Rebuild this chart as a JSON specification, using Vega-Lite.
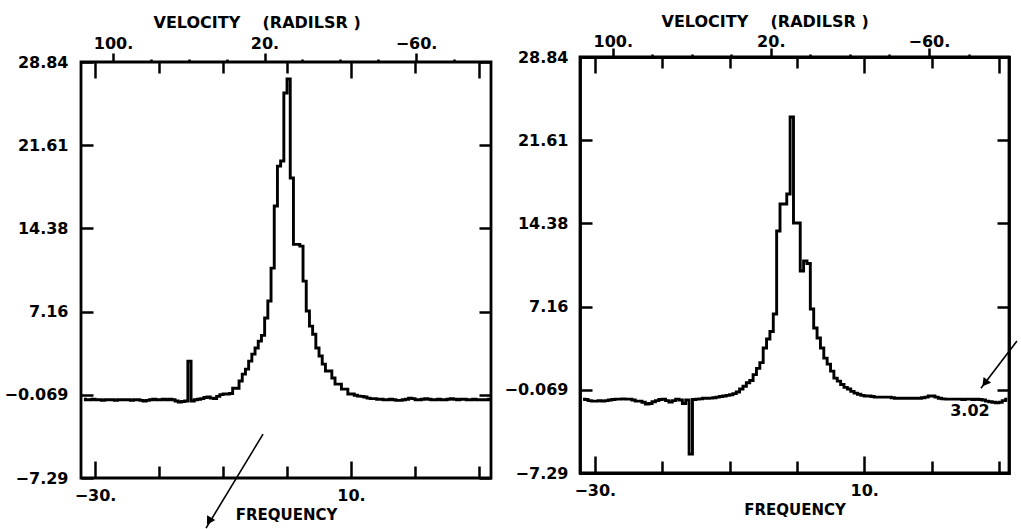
{
  "$schema": "https://vega.github.io/schema/vega-lite/v6.json",
  "background": "white",
  "padding": {"left": 2, "top": 12, "right": 0, "bottom": 0},
  "spacing": 5,
  "config": {
    "view": {"stroke": "black", "strokeWidth": 2.8},
    "axis": {"grid": false, "domain": false, "domainColor": "black", "domainWidth": 2.8, "domainCap": "square", "tickColor": "black", "tickWidth": 2.5, "labelFont": "DejaVu Sans", "labelFontWeight": "bold", "labelFontSize": 16, "labelColor": "black", "labelFlush": false, "labelOverlap": false, "titleFont": "DejaVu Sans", "titleFontWeight": "bold", "titleFontSize": 15, "titleColor": "black"},
    "text": {"font": "DejaVu Sans"}
  },
  "datasets": {
    "left": [
      {"f": -31.75, "v": -0.45}, {"f": -31.25, "v": -0.5}, {"f": -30.75, "v": -0.5}, {"f": -30.25, "v": -0.45},
      {"f": -29.75, "v": -0.5}, {"f": -29.25, "v": -0.5}, {"f": -28.75, "v": -0.55}, {"f": -28.25, "v": -0.5},
      {"f": -27.75, "v": -0.5}, {"f": -27.25, "v": -0.5}, {"f": -26.75, "v": -0.55}, {"f": -26.25, "v": -0.5},
      {"f": -25.75, "v": -0.5}, {"f": -25.25, "v": -0.5}, {"f": -24.75, "v": -0.5}, {"f": -24.25, "v": -0.55},
      {"f": -23.75, "v": -0.5}, {"f": -23.25, "v": -0.5}, {"f": -22.75, "v": -0.55}, {"f": -22.25, "v": -0.6},
      {"f": -21.75, "v": -0.55}, {"f": -21.25, "v": -0.5}, {"f": -20.75, "v": -0.45}, {"f": -20.25, "v": -0.5},
      {"f": -19.75, "v": -0.5}, {"f": -19.25, "v": -0.45}, {"f": -18.75, "v": -0.5}, {"f": -18.25, "v": -0.45},
      {"f": -17.75, "v": -0.5}, {"f": -17.25, "v": -0.6}, {"f": -16.75, "v": -0.7}, {"f": -16.25, "v": -0.65},
      {"f": -15.75, "v": -0.6}, {"f": -15.25, "v": 2.86}, {"f": -14.75, "v": -0.6}, {"f": -14.25, "v": -0.5},
      {"f": -13.75, "v": -0.45}, {"f": -13.25, "v": -0.4}, {"f": -12.75, "v": -0.3}, {"f": -12.25, "v": -0.25},
      {"f": -11.75, "v": -0.35}, {"f": -11.25, "v": -0.4}, {"f": -10.75, "v": -0.2}, {"f": -10.25, "v": -0.05},
      {"f": -9.75, "v": 0.0}, {"f": -9.25, "v": 0.0}, {"f": -8.75, "v": 0.05}, {"f": -8.25, "v": 0.51},
      {"f": -7.75, "v": 0.51}, {"f": -7.25, "v": 1.13}, {"f": -6.75, "v": 1.73}, {"f": -6.25, "v": 2.17},
      {"f": -5.75, "v": 2.86}, {"f": -5.25, "v": 3.47}, {"f": -4.75, "v": 4.0}, {"f": -4.25, "v": 4.6},
      {"f": -3.75, "v": 5.1}, {"f": -3.25, "v": 6.6}, {"f": -2.75, "v": 8.08}, {"f": -2.25, "v": 10.94},
      {"f": -1.75, "v": 16.33}, {"f": -1.25, "v": 19.8}, {"f": -0.75, "v": 20.24}, {"f": -0.25, "v": 26.15},
      {"f": 0.25, "v": 27.36}, {"f": 0.75, "v": 18.76}, {"f": 1.25, "v": 13.0}, {"f": 1.75, "v": 13.0},
      {"f": 2.25, "v": 12.85}, {"f": 2.75, "v": 9.81}, {"f": 3.25, "v": 7.21}, {"f": 3.75, "v": 5.9},
      {"f": 4.25, "v": 5.2}, {"f": 4.75, "v": 4.0}, {"f": 5.25, "v": 3.3}, {"f": 5.75, "v": 2.6},
      {"f": 6.25, "v": 2.0}, {"f": 6.75, "v": 2.0}, {"f": 7.25, "v": 1.39}, {"f": 7.75, "v": 0.86},
      {"f": 8.25, "v": 0.86}, {"f": 8.75, "v": 0.43}, {"f": 9.25, "v": 0.43}, {"f": 9.75, "v": 0.0},
      {"f": 10.25, "v": 0.0}, {"f": 10.75, "v": -0.1}, {"f": 11.25, "v": -0.18}, {"f": 11.75, "v": -0.2},
      {"f": 12.25, "v": -0.25}, {"f": 12.75, "v": -0.35}, {"f": 13.25, "v": -0.4}, {"f": 13.75, "v": -0.4},
      {"f": 14.25, "v": -0.45}, {"f": 14.75, "v": -0.45}, {"f": 15.25, "v": -0.5}, {"f": 15.75, "v": -0.5},
      {"f": 16.25, "v": -0.45}, {"f": 16.75, "v": -0.5}, {"f": 17.25, "v": -0.55}, {"f": 17.75, "v": -0.55},
      {"f": 18.25, "v": -0.5}, {"f": 18.75, "v": -0.45}, {"f": 19.25, "v": -0.35}, {"f": 19.75, "v": -0.4},
      {"f": 20.25, "v": -0.5}, {"f": 20.75, "v": -0.5}, {"f": 21.25, "v": -0.45}, {"f": 21.75, "v": -0.4},
      {"f": 22.25, "v": -0.45}, {"f": 22.75, "v": -0.5}, {"f": 23.25, "v": -0.5}, {"f": 23.75, "v": -0.45},
      {"f": 24.25, "v": -0.5}, {"f": 24.75, "v": -0.5}, {"f": 25.25, "v": -0.45}, {"f": 25.75, "v": -0.4},
      {"f": 26.25, "v": -0.45}, {"f": 26.75, "v": -0.5}, {"f": 27.25, "v": -0.45}, {"f": 27.75, "v": -0.45},
      {"f": 28.25, "v": -0.5}, {"f": 28.75, "v": -0.5}, {"f": 29.25, "v": -0.45}, {"f": 29.75, "v": -0.5},
      {"f": 30.25, "v": -0.5}, {"f": 30.75, "v": -0.5}, {"f": 31.25, "v": -0.5}, {"f": 31.75, "v": -0.45}
    ],
    "right": [
      {"f": -31.75, "v": -0.87}, {"f": -31.25, "v": -0.9}, {"f": -30.75, "v": -1.0}, {"f": -30.25, "v": -1.05},
      {"f": -29.75, "v": -1.05}, {"f": -29.25, "v": -1.0}, {"f": -28.75, "v": -1.05}, {"f": -28.25, "v": -1.0},
      {"f": -27.75, "v": -0.95}, {"f": -27.25, "v": -0.9}, {"f": -26.75, "v": -0.87}, {"f": -26.25, "v": -0.87},
      {"f": -25.75, "v": -0.85}, {"f": -25.25, "v": -0.87}, {"f": -24.75, "v": -0.87}, {"f": -24.25, "v": -0.95},
      {"f": -23.75, "v": -1.05}, {"f": -23.25, "v": -1.05}, {"f": -22.75, "v": -1.15}, {"f": -22.25, "v": -1.3},
      {"f": -21.75, "v": -1.25}, {"f": -21.25, "v": -1.1}, {"f": -20.75, "v": -1.0}, {"f": -20.25, "v": -0.9},
      {"f": -19.75, "v": -0.87}, {"f": -19.25, "v": -1.0}, {"f": -18.75, "v": -1.13}, {"f": -18.25, "v": -1.0},
      {"f": -17.75, "v": -0.87}, {"f": -17.25, "v": -0.95}, {"f": -16.75, "v": -1.25}, {"f": -16.25, "v": -0.95},
      {"f": -15.75, "v": -5.65}, {"f": -15.25, "v": -0.9}, {"f": -14.75, "v": -0.87}, {"f": -14.25, "v": -0.85},
      {"f": -13.75, "v": -0.8}, {"f": -13.25, "v": -0.8}, {"f": -12.75, "v": -0.79}, {"f": -12.25, "v": -0.75},
      {"f": -11.75, "v": -0.7}, {"f": -11.25, "v": -0.65}, {"f": -10.75, "v": -0.6}, {"f": -10.25, "v": -0.55},
      {"f": -9.75, "v": -0.5}, {"f": -9.25, "v": -0.4}, {"f": -8.75, "v": -0.25}, {"f": -8.25, "v": 0.0},
      {"f": -7.75, "v": 0.25}, {"f": -7.25, "v": 0.55}, {"f": -6.75, "v": 0.75}, {"f": -6.25, "v": 1.25},
      {"f": -5.75, "v": 1.8}, {"f": -5.25, "v": 2.3}, {"f": -4.75, "v": 3.56}, {"f": -4.25, "v": 4.35},
      {"f": -3.75, "v": 5.0}, {"f": -3.25, "v": 6.52}, {"f": -2.75, "v": 13.73}, {"f": -2.25, "v": 16.07},
      {"f": -1.75, "v": 16.07}, {"f": -1.25, "v": 16.94}, {"f": -0.75, "v": 23.63}, {"f": -0.25, "v": 14.42},
      {"f": 0.25, "v": 14.42}, {"f": 0.75, "v": 10.25}, {"f": 1.25, "v": 11.13}, {"f": 1.75, "v": 10.9},
      {"f": 2.25, "v": 6.95}, {"f": 2.75, "v": 5.3}, {"f": 3.25, "v": 4.43}, {"f": 3.75, "v": 3.56},
      {"f": 4.25, "v": 2.69}, {"f": 4.75, "v": 2.17}, {"f": 5.25, "v": 1.56}, {"f": 5.75, "v": 0.95},
      {"f": 6.25, "v": 0.69}, {"f": 6.75, "v": 0.4}, {"f": 7.25, "v": 0.15}, {"f": 7.75, "v": 0.0},
      {"f": 8.25, "v": -0.2}, {"f": 8.75, "v": -0.35}, {"f": 9.25, "v": -0.45}, {"f": 9.75, "v": -0.55},
      {"f": 10.25, "v": -0.6}, {"f": 10.75, "v": -0.6}, {"f": 11.25, "v": -0.65}, {"f": 11.75, "v": -0.7},
      {"f": 12.25, "v": -0.7}, {"f": 12.75, "v": -0.7}, {"f": 13.25, "v": -0.7}, {"f": 13.75, "v": -0.7},
      {"f": 14.25, "v": -0.75}, {"f": 14.75, "v": -0.8}, {"f": 15.25, "v": -0.8}, {"f": 15.75, "v": -0.8},
      {"f": 16.25, "v": -0.8}, {"f": 16.75, "v": -0.8}, {"f": 17.25, "v": -0.8}, {"f": 17.75, "v": -0.8},
      {"f": 18.25, "v": -0.8}, {"f": 18.75, "v": -0.75}, {"f": 19.25, "v": -0.7}, {"f": 19.75, "v": -0.6},
      {"f": 20.25, "v": -0.6}, {"f": 20.75, "v": -0.7}, {"f": 21.25, "v": -0.8}, {"f": 21.75, "v": -0.85},
      {"f": 22.25, "v": -0.87}, {"f": 22.75, "v": -0.87}, {"f": 23.25, "v": -0.87}, {"f": 23.75, "v": -0.87},
      {"f": 24.25, "v": -0.87}, {"f": 24.75, "v": -0.9}, {"f": 25.25, "v": -0.87}, {"f": 25.75, "v": -0.87},
      {"f": 26.25, "v": -0.9}, {"f": 26.75, "v": -0.87}, {"f": 27.25, "v": -0.9}, {"f": 27.75, "v": -0.95},
      {"f": 28.25, "v": -1.05}, {"f": 28.75, "v": -1.1}, {"f": 29.25, "v": -1.15}, {"f": 29.75, "v": -1.2},
      {"f": 30.25, "v": -1.15}, {"f": 30.75, "v": -1.0}, {"f": 31.25, "v": -0.87}
    ],
    "frameBox": [{"x0": -32.2, "x1": 31.5, "y0": -7.29, "y1": 28.84}],
    "leftArrow": [{"f": -3.75, "v": -3.48}, {"f": -12.66, "v": -11.65}],
    "leftHead": [{"f": -12.19, "v": -11.04}],
    "rightArrow": [{"f": 32.68, "v": 4.17}, {"f": 27.33, "v": 0.08}],
    "rightHead": [{"f": 27.92, "v": 0.52}],
    "rightNote": [{"f": 25.7, "v": -1.92, "t": "3.02"}]
  },
  "hconcat": [
    {
      "width": 410,
      "height": 416,
      "resolve": {"axis": {"x": "independent", "y": "independent"}},
      "layer": [
        {
          "data": {"name": "left"},
          "mark": {"type": "line", "interpolate": "step", "color": "black", "strokeWidth": 2.9},
          "encoding": {
            "x": {"field": "f", "type": "quantitative", "scale": {"domain": [-32.2, 31.875], "nice": false, "zero": false},
                  "axis": {"orient": "bottom", "values": [-30, 10], "ticks": false, "labelPadding": 9, "labelExpr": "datum.label + '.'", "title": "FREQUENCY", "titlePadding": 4}},
            "y": {"field": "v", "type": "quantitative", "scale": {"domain": [-7.29, 28.84], "nice": false, "zero": false},
                  "axis": {"orient": "left", "values": [-7.29, -0.069, 7.16, 14.38, 21.61, 28.84], "ticks": false, "labelPadding": 13, "labelExpr": "datum.value == -0.069 ? '−0.069' : format(datum.value, '.2f')", "title": null}}
          }
        },
        {
          "data": {"name": "left"},
          "mark": {"type": "point", "opacity": 0},
          "encoding": {
            "x": {"field": "f", "type": "quantitative", "scale": {"domain": [-32.2, 31.875], "nice": false, "zero": false},
                  "axis": {"orient": "bottom", "values": [-30, 10], "labels": false, "tickSize": -17, "title": null}},
            "y": {"field": "v", "type": "quantitative", "scale": {"domain": [-7.29, 28.84], "nice": false, "zero": false},
                  "axis": {"orient": "left", "values": [-7.29, -0.069, 7.16, 14.38, 21.61, 28.84], "labels": false, "tickSize": -12, "title": null}}
          }
        },
        {
          "data": {"name": "left"},
          "mark": {"type": "point", "opacity": 0},
          "encoding": {
            "x": {"field": "f", "type": "quantitative", "scale": {"domain": [-32.2, 31.875], "nice": false, "zero": false},
                  "axis": {"orient": "bottom", "values": [-20, -10, 0, 20, 30], "labels": false, "tickSize": -12, "title": null}},
            "y": {"field": "v", "type": "quantitative", "scale": {"domain": [-7.29, 28.84], "nice": false, "zero": false},
                  "axis": {"orient": "right", "values": [-7.29, -0.069, 7.16, 14.38, 21.61, 28.84], "labels": false, "tickSize": -12, "title": null}}
          }
        },
        {
          "data": {"name": "left"},
          "mark": {"type": "point", "opacity": 0},
          "encoding": {
            "x": {"field": "f", "type": "quantitative", "scale": {"domain": [-32.2, 31.875], "nice": false, "zero": false},
                  "axis": {"orient": "top", "values": [-30, 10, 30], "labels": false, "tickSize": -16, "title": null}}
          }
        },
        {
          "data": {"name": "left"},
          "mark": {"type": "point", "opacity": 0},
          "encoding": {
            "x": {"field": "f", "type": "quantitative", "scale": {"domain": [-32.2, 31.875], "nice": false, "zero": false},
                  "axis": {"orient": "top", "values": [-20, -10, 0, 20], "labels": false, "tickSize": -11, "title": null}}
          }
        },
        {
          "data": {"name": "left"},
          "mark": {"type": "point", "opacity": 0},
          "encoding": {
            "x": {"field": "f", "type": "quantitative", "scale": {"domain": [-32.2, 31.875], "nice": false, "zero": false},
                  "axis": {"orient": "top", "values": [-27.19, -3.52, 20.16], "tickSize": 9, "labelPadding": 2, "labelExpr": "datum.value < -15 ? '100.' : datum.value < 10 ? '20.' : '−60.'", "title": "VELOCITY\u00a0\u00a0\u00a0\u00a0(RADILSR\u00a0)", "titleFontSize": 16, "titleAlign": "left", "titleX": 72, "titlePadding": 5}}
          }
        },
        {
          "data": {"name": "left"},
          "mark": {"type": "point", "opacity": 0},
          "encoding": {
            "x": {"field": "f", "type": "quantitative", "scale": {"domain": [-32.2, 31.875], "nice": false, "zero": false},
                  "axis": {"orient": "top", "values": [-21.27, -15.36, -9.44, 2.39, 8.31, 14.23, 26.06], "labels": false, "tickSize": 3, "title": null}}
          }
        },
        {
          "data": {"name": "leftArrow"},
          "mark": {"type": "line", "color": "black", "strokeWidth": 1.6},
          "encoding": {
            "x": {"field": "f", "type": "quantitative", "scale": {"domain": [-32.2, 31.875], "nice": false, "zero": false}, "axis": null},
            "y": {"field": "v", "type": "quantitative", "scale": {"domain": [-7.29, 28.84], "nice": false, "zero": false}, "axis": null}
          }
        },
        {
          "data": {"name": "leftHead"},
          "mark": {"type": "point", "shape": "triangle-up", "filled": true, "color": "black", "opacity": 1, "size": 90, "angle": 211},
          "encoding": {
            "x": {"field": "f", "type": "quantitative", "scale": {"domain": [-32.2, 31.875], "nice": false, "zero": false}, "axis": null},
            "y": {"field": "v", "type": "quantitative", "scale": {"domain": [-7.29, 28.84], "nice": false, "zero": false}, "axis": null}
          }
        }
      ]
    },
    {
      "width": 429,
      "height": 416,
      "view": {"stroke": null},
      "resolve": {"axis": {"x": "independent", "y": "independent"}},
      "layer": [
        {
          "data": {"name": "frameBox"},
          "mark": {"type": "rect", "fill": null, "fillOpacity": 0, "stroke": "black", "strokeWidth": 2.8},
          "encoding": {
            "x": {"field": "x0", "type": "quantitative", "scale": {"domain": [-32.2, 31.5], "nice": false, "zero": false}, "axis": null},
            "x2": {"field": "x1"},
            "y": {"field": "y0", "type": "quantitative", "scale": {"domain": [-7.29, 28.84], "range": [411, -5], "nice": false, "zero": false}, "axis": null},
            "y2": {"field": "y1"}
          }
        },
        {
          "data": {"name": "right"},
          "mark": {"type": "point", "opacity": 0},
          "encoding": {
            "x": {"field": "f", "type": "quantitative", "scale": {"domain": [-32.2, 31.5], "nice": false, "zero": false}, "axis": null},
            "y": {"field": "v", "type": "quantitative", "scale": {"domain": [-7.29, 28.84], "range": [411, -5], "nice": false, "zero": false},
                  "axis": {"orient": "left", "values": [-7.29, 28.84], "grid": true, "gridColor": "black", "gridWidth": 2.8, "gridOpacity": 1, "ticks": false, "labels": false, "title": null}}
          }
        },
        {
          "data": {"name": "right"},
          "mark": {"type": "line", "interpolate": "step", "color": "black", "strokeWidth": 2.9},
          "encoding": {
            "x": {"field": "f", "type": "quantitative", "scale": {"domain": [-32.2, 31.5], "nice": false, "zero": false},
                  "axis": {"orient": "bottom", "offset": -5, "values": [-30, 10], "ticks": false, "labelPadding": 9, "labelExpr": "datum.label + '.'", "title": "FREQUENCY", "titlePadding": 4}},
            "y": {"field": "v", "type": "quantitative", "scale": {"domain": [-7.29, 28.84], "range": [411, -5], "nice": false, "zero": false},
                  "axis": {"orient": "left", "domain": true, "values": [-7.29, -0.069, 7.16, 14.38, 21.61, 28.84], "ticks": false, "labelPadding": 12, "labelExpr": "datum.value == -0.069 ? '−0.069' : format(datum.value, '.2f')", "title": null}}
          }
        },
        {
          "data": {"name": "right"},
          "mark": {"type": "point", "opacity": 0},
          "encoding": {
            "x": {"field": "f", "type": "quantitative", "scale": {"domain": [-32.2, 31.5], "nice": false, "zero": false},
                  "axis": {"orient": "bottom", "offset": -5, "values": [-30, 10], "labels": false, "tickSize": -17, "title": null}},
            "y": {"field": "v", "type": "quantitative", "scale": {"domain": [-7.29, 28.84], "range": [411, -5], "nice": false, "zero": false},
                  "axis": {"orient": "left", "values": [-7.29, -0.069, 7.16, 14.38, 21.61, 28.84], "labels": false, "tickSize": -12, "title": null}}
          }
        },
        {
          "data": {"name": "right"},
          "mark": {"type": "point", "opacity": 0},
          "encoding": {
            "x": {"field": "f", "type": "quantitative", "scale": {"domain": [-32.2, 31.5], "nice": false, "zero": false},
                  "axis": {"orient": "bottom", "offset": -5, "values": [-20, -10, 0, 20, 30], "labels": false, "tickSize": -12, "title": null}},
            "y": {"field": "v", "type": "quantitative", "scale": {"domain": [-7.29, 28.84], "range": [411, -5], "nice": false, "zero": false},
                  "axis": {"orient": "right", "domain": true, "values": [-7.29, -0.069, 7.16, 14.38, 21.61, 28.84], "labels": false, "tickSize": -12, "title": null}}
          }
        },
        {
          "data": {"name": "right"},
          "mark": {"type": "point", "opacity": 0},
          "encoding": {
            "x": {"field": "f", "type": "quantitative", "scale": {"domain": [-32.2, 31.5], "nice": false, "zero": false},
                  "axis": {"orient": "top", "offset": 5, "values": [-30, 10, 30], "labels": false, "tickSize": -16, "title": null}}
          }
        },
        {
          "data": {"name": "right"},
          "mark": {"type": "point", "opacity": 0},
          "encoding": {
            "x": {"field": "f", "type": "quantitative", "scale": {"domain": [-32.2, 31.5], "nice": false, "zero": false},
                  "axis": {"orient": "top", "offset": 5, "values": [-20, -10, 0, 20], "labels": false, "tickSize": -11, "title": null}}
          }
        },
        {
          "data": {"name": "right"},
          "mark": {"type": "point", "opacity": 0},
          "encoding": {
            "x": {"field": "f", "type": "quantitative", "scale": {"domain": [-32.2, 31.5], "nice": false, "zero": false},
                  "axis": {"orient": "top", "offset": 5, "values": [-27.33, -3.87, 19.6], "tickSize": 9, "labelPadding": -1, "labelExpr": "datum.value < -15 ? '100.' : datum.value < 10 ? '20.' : '−60.'", "title": "VELOCITY\u00a0\u00a0\u00a0\u00a0(RADILSR\u00a0)", "titleFontSize": 16, "titleAlign": "left", "titleX": 81, "titlePadding": 4}}
          }
        },
        {
          "data": {"name": "right"},
          "mark": {"type": "point", "opacity": 0},
          "encoding": {
            "x": {"field": "f", "type": "quantitative", "scale": {"domain": [-32.2, 31.5], "nice": false, "zero": false},
                  "axis": {"orient": "top", "offset": 5, "values": [-21.46, -15.6, -9.73, 2.0, 7.87, 13.7, 25.5], "labels": false, "tickSize": 3, "title": null}}
          }
        },
        {
          "data": {"name": "rightArrow"},
          "mark": {"type": "line", "color": "black", "strokeWidth": 1.6},
          "encoding": {
            "x": {"field": "f", "type": "quantitative", "scale": {"domain": [-32.2, 31.5], "nice": false, "zero": false}, "axis": null},
            "y": {"field": "v", "type": "quantitative", "scale": {"domain": [-7.29, 28.84], "range": [411, -5], "nice": false, "zero": false}, "axis": null}
          }
        },
        {
          "data": {"name": "rightHead"},
          "mark": {"type": "point", "shape": "triangle-up", "filled": true, "color": "black", "opacity": 1, "size": 90, "angle": 217},
          "encoding": {
            "x": {"field": "f", "type": "quantitative", "scale": {"domain": [-32.2, 31.5], "nice": false, "zero": false}, "axis": null},
            "y": {"field": "v", "type": "quantitative", "scale": {"domain": [-7.29, 28.84], "range": [411, -5], "nice": false, "zero": false}, "axis": null}
          }
        },
        {
          "data": {"name": "rightNote"},
          "mark": {"type": "text", "font": "DejaVu Sans", "fontWeight": "bold", "fontSize": 16, "color": "black"},
          "encoding": {
            "x": {"field": "f", "type": "quantitative", "scale": {"domain": [-32.2, 31.5], "nice": false, "zero": false}, "axis": null},
            "y": {"field": "v", "type": "quantitative", "scale": {"domain": [-7.29, 28.84], "range": [411, -5], "nice": false, "zero": false}, "axis": null},
            "text": {"field": "t"}
          }
        }
      ]
    }
  ]
}
